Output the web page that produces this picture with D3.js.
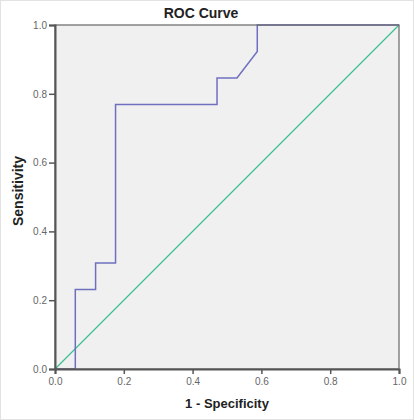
<!DOCTYPE html>
<html>
<head>
<meta charset="utf-8">
<script src="https://cdn.jsdelivr.net/npm/d3@7"></script>
<style>
  body { margin: 0; background: #fff; }
  text { font-family: "Liberation Sans", Arial, sans-serif; }
</style>
</head>
<body>
<div id="chart"></div>
<script>
// ROC curve points (1 - specificity, sensitivity)
const fpr = [0, 0.059, 0.059, 0.118, 0.118, 0.176, 0.176, 0.471, 0.471, 0.529, 0.588, 0.588, 1];
const tpr = [0, 0, 0.231, 0.231, 0.308, 0.308, 0.769, 0.769, 0.846, 0.846, 0.923, 1, 1];
// reference line
const refX = [0, 1];
const refY = [0, 1];
const ticks = [0, 0.2, 0.4, 0.6, 0.8, 1.0];

const W = 414, H = 420;
const margin = {top: 25, right: 15, bottom: 51, left: 55};
const width = W - margin.left - margin.right;   // 344
const height = H - margin.top - margin.bottom;  // 344

const svg = d3.select("#chart").append("svg")
  .attr("width", W)
  .attr("height", H);

// light outer frame
svg.append("rect")
  .attr("x", 0.5).attr("y", 0.5)
  .attr("width", W - 1).attr("height", H - 1)
  .attr("fill", "#fff")
  .attr("stroke", "#e2e2e2");

const g = svg.append("g")
  .attr("transform", `translate(${margin.left}, ${margin.top})`);

const x = d3.scaleLinear().domain([0, 1]).range([0, width]);
const y = d3.scaleLinear().domain([0, 1]).range([height, 0]);

// plot background
g.append("rect")
  .attr("width", width).attr("height", height)
  .attr("fill", "#f0f0f0");

// diagonal reference line
const line = d3.line().x(d => x(d[0])).y(d => y(d[1]));
g.append("path")
  .attr("d", line(d3.zip(refX, refY)))
  .attr("fill", "none")
  .attr("stroke", "#3fbf94")
  .attr("stroke-width", 1.2);

// ROC curve
g.append("path")
  .attr("d", line(d3.zip(fpr, tpr)))
  .attr("fill", "none")
  .attr("stroke", "#6f6fc0")
  .attr("stroke-width", 1.5);

// frame (top/right)
g.append("rect")
  .attr("width", width).attr("height", height)
  .attr("fill", "none")
  .attr("stroke", "#666")
  .attr("stroke-width", 1.2);

// axes
const xAxis = g.append("g")
  .attr("transform", `translate(0, ${height})`)
  .call(d3.axisBottom(x).tickValues(ticks).tickFormat(d3.format(".1f")).tickSize(5).tickPadding(4));
const yAxis = g.append("g")
  .call(d3.axisLeft(y).tickValues(ticks).tickFormat(d3.format(".1f")).tickSize(6).tickPadding(2));

[xAxis, yAxis].forEach(a => {
  a.select(".domain").attr("stroke", "#555").attr("stroke-width", 2);
  a.selectAll(".tick line").attr("stroke", "#555").attr("stroke-width", 1.5);
  a.selectAll(".tick text")
    .attr("fill", "#666")
    .style("font-size", "10px")
    .style("font-family", "'Liberation Sans', Arial, sans-serif");
});

// title
svg.append("text")
  .attr("x", 201)
  .attr("y", 18)
  .attr("text-anchor", "middle")
  .style("font-size", "14px")
  .style("font-weight", "bold")
  .attr("fill", "#222")
  .text("ROC Curve");

// x label
svg.append("text")
  .attr("x", margin.left + width / 2)
  .attr("y", 408)
  .attr("text-anchor", "middle")
  .style("font-size", "13px")
  .style("font-weight", "bold")
  .attr("fill", "#222")
  .text("1 - Specificity");

// y label
svg.append("text")
  .attr("transform", `translate(23, 191) rotate(-90)`)
  .attr("text-anchor", "middle")
  .style("font-size", "14px")
  .style("font-weight", "bold")
  .attr("fill", "#222")
  .text("Sensitivity");
</script>
</body>
</html>
